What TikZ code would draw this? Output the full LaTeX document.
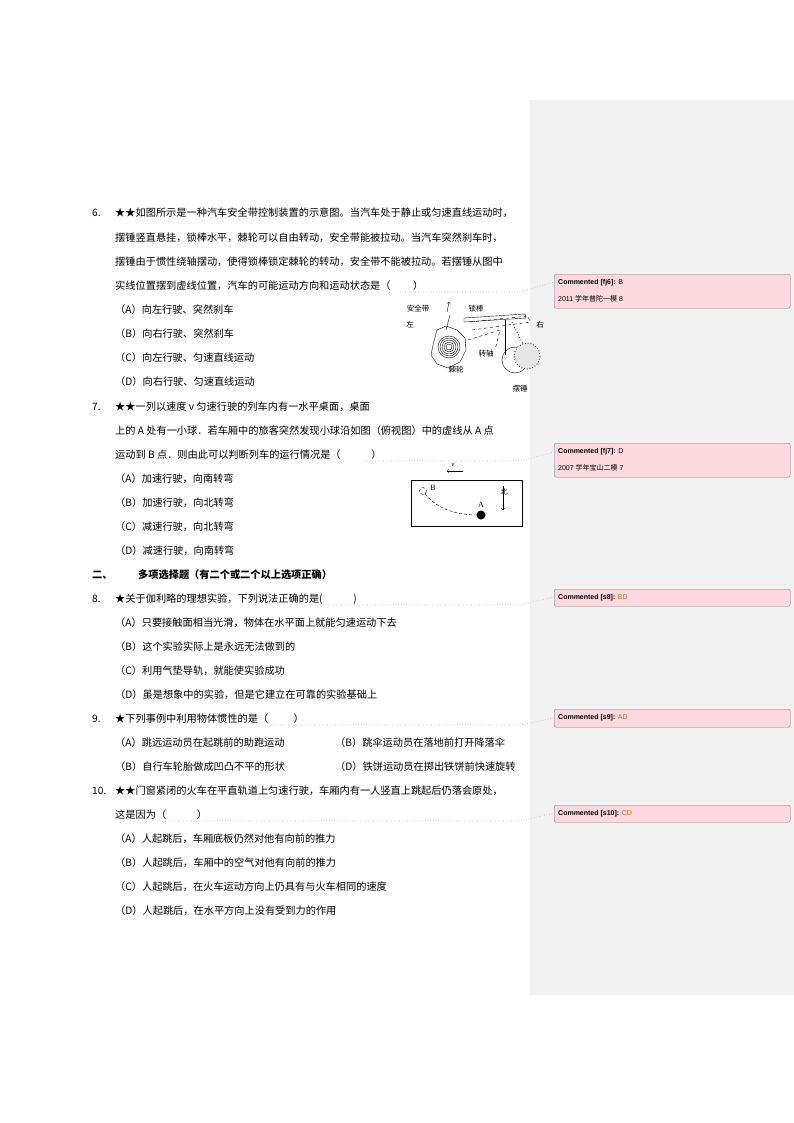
\documentclass[tikz,border=0pt]{standalone}
\usepackage{fontspec}
\setmainfont{Liberation Serif}
\newfontfamily\cjk{Noto Sans CJK SC}
\newfontfamily\sans{Liberation Sans}
\definecolor{panel}{HTML}{F2F2F2}
\definecolor{cpink}{HTML}{FCD9DF}
\definecolor{cedge}{HTML}{9A6A78}
\definecolor{ans}{HTML}{D2691E}
\begin{document}
\begin{tikzpicture}[x=1pt,y=-1pt,
  txt/.style={anchor=west,inner sep=0pt,font=\cjk\fontsize{10.2}{12}\selectfont},
  ctext/.style={anchor=west,inner sep=0pt,font=\sans\fontsize{7}{9}\selectfont},
  cbox/.style={draw=cedge,fill=cpink,rounded corners=2pt},
  lead/.style={draw=gray!70,dotted,line width=0.6pt}]
\useasboundingbox (0,0) rectangle (794,1123);
\fill[white] (0,0) rectangle (794,1123);
\fill[panel] (530,100) rectangle (794,995);
% Q6
\node[txt] (n6) at (92,213) {6.};
\node[txt] (q6a) at (115,213) {★★如图所示是一种汽车安全带控制装置的示意图。当汽车处于静止或匀速直线运动时，};
\node[txt] at (115,238) {摆锤竖直悬挂，锁棒水平，棘轮可以自由转动，安全带能被拉动。当汽车突然刹车时，};
\node[txt] at (115,262) {摆锤由于惯性绕轴摆动，使得锁棒锁定棘轮的转动，安全带不能被拉动。若摆锤从图中};
\node[txt] (q6d) at (115,286) {实线位置摆到虚线位置，汽车的可能运动方向和运动状态是（\hspace{2.2em}）};
\node[txt] at (115,310) {（A）向左行驶、突然刹车};
\node[txt] at (115,334) {（B）向右行驶、突然刹车};
\node[txt] at (115,358) {（C）向左行驶、匀速直线运动};
\node[txt] at (115,382) {（D）向右行驶、匀速直线运动};
% figure 6
\begin{scope}[font=\cjk\fontsize{7.5}{9}\selectfont]
\node at (418,309) {安全带};
\node at (476,309) {锁棒};
\node at (410,325) {左};
\node at (540,325) {右};
\node at (486,354) {转轴};
\node at (456,370) {棘轮};
\node at (520,389) {摆锤};
\draw (433,345) -- (437,330) -- (446,326) -- (457,330) -- (465,338) -- (466,350) -- (460,362) -- (448,368) -- (437,364) -- (431,355) -- cycle;
\foreach \r in {3,5,7,9,11} \draw[line width=0.4pt] (449,347) circle (\r);
\draw (446,330) -- (450,315); \draw[->] (447,312)--(449,302);
\draw (464,318) -- (525,314) -- (526,318) -- (464,322) -- cycle;
\draw[dashed] (470,322) -- (528,316) -- (530,322) -- (472,330);
\draw (505,320) -- (505,355);
\draw (515,360) circle (13);
\draw[dotted,thick] (512,322) -- (525,348);
\draw[dotted,thick,fill=gray!20] (527,356) circle (13);
\draw[dashed] (468,340) -- (500,330) -- (495,350);
\end{scope}
% Q7
\node[txt] at (92,407) {7.};
\node[txt] at (115,407) {★★一列以速度 v 匀速行驶的列车内有一水平桌面，桌面};
\node[txt] at (115,431) {上的 A 处有一小球．若车厢中的旅客突然发现小球沿如图（俯视图）中的虚线从 A 点};
\node[txt] (q7c) at (115,455) {运动到 B 点．则由此可以判断列车的运行情况是（\hspace{3em}）};
\node[txt] at (115,479) {（A）加速行驶，向南转弯};
\node[txt] at (115,503) {（B）加速行驶，向北转弯};
\node[txt] at (115,527) {（C）减速行驶，向北转弯};
\node[txt] at (115,551) {（D）减速行驶，向南转弯};
\draw (411,480) rectangle (522,526);
\node[font=\itshape\fontsize{7}{8}\selectfont] at (453,465) {v};
\draw[->] (463,471) -- (447,471);
\node[font=\fontsize{8}{9}\selectfont] at (433,488) {B};
\node[font=\fontsize{8}{9}\selectfont] at (481,505) {A};
\draw[densely dashed] (423,491) circle (3.5);
\draw[densely dashed] (425,494) .. controls (440,512) and (462,515) .. (478,515);
\fill (481,515) circle (4.5);
\node[font=\cjk\fontsize{7}{8}\selectfont] at (504,492) {北};
\draw[->] (503,486) -- (503,510);
% heading
\node[txt,font=\cjk\bfseries\fontsize{10.2}{12}\selectfont] at (92,575) {二、};
\node[txt,font=\cjk\bfseries\fontsize{10.2}{12}\selectfont] at (138,575) {多项选择题（有二个或二个以上选项正确）};
% Q8
\node[txt] at (92,599) {8.};
\node[txt] (q8) at (115,599) {★关于伽利略的理想实验，下列说法正确的是(\hspace{3em})};
\node[txt] at (115,623) {（A）只要接触面相当光滑，物体在水平面上就能匀速运动下去};
\node[txt] at (115,647) {（B）这个实验实际上是永远无法做到的};
\node[txt] at (115,671) {（C）利用气垫导轨，就能使实验成功};
\node[txt] at (115,695) {（D）虽是想象中的实验，但是它建立在可靠的实验基础上};
% Q9
\node[txt] at (92,719) {9.};
\node[txt] (q9) at (115,719) {★下列事例中利用物体惯性的是（\hspace{2.5em}）};
\node[txt] at (115,743) {（A）跳远运动员在起跳前的助跑运动};
\node[txt] at (335,743) {（B）跳伞运动员在落地前打开降落伞};
\node[txt] at (115,767) {（B）自行车轮胎做成凹凸不平的形状};
\node[txt] at (335,767) {（D）铁饼运动员在掷出铁饼前快速旋转};
% Q10
\node[txt] at (92,791) {10.};
\node[txt] at (115,791) {★★门窗紧闭的火车在平直轨道上匀速行驶，车厢内有一人竖直上跳起后仍落会原处，};
\node[txt] (q10) at (115,815) {这是因为（\hspace{3em}）};
\node[txt] at (115,839) {（A）人起跳后，车厢底板仍然对他有向前的推力};
\node[txt] at (115,863) {（B）人起跳后，车厢中的空气对他有向前的推力};
\node[txt] at (115,887) {（C）人起跳后，在火车运动方向上仍具有与火车相同的速度};
\node[txt] at (115,911) {（D）人起跳后，在水平方向上没有受到力的作用};
% comments
\node[cbox,minimum width=236pt,minimum height=34pt,anchor=north west,inner sep=0pt] (c6) at (554,274) {};
\node[ctext] at (558,283) {\textbf{Commented [fj6]:} B};
\node[ctext] at (558,299) {2011 {\cjk 学年普陀一模} 8};
\node[cbox,minimum width=236pt,minimum height=34pt,anchor=north west,inner sep=0pt] (c7) at (554,443) {};
\node[ctext] at (558,452) {\textbf{Commented [fj7]:} D};
\node[ctext] at (558,468) {2007 {\cjk 学年宝山二模} 7};
\node[cbox,minimum width=236pt,minimum height=17pt,anchor=north west,inner sep=0pt] (c8) at (554,589) {};
\node[ctext] at (558,597.5) {\textbf{Commented [s8]:} \textcolor{ans}{BD}};
\node[cbox,minimum width=236pt,minimum height=18pt,anchor=north west,inner sep=0pt] (c9) at (554,709) {};
\node[ctext] at (558,718) {\textbf{Commented [s9]:} \textcolor{ans}{AD}};
\node[cbox,minimum width=236pt,minimum height=17pt,anchor=north west,inner sep=0pt] (c10) at (554,805) {};
\node[ctext] at (558,813.5) {\textbf{Commented [s10]:} \textcolor{ans}{CD}};
% leaders
\draw[lead] (400,292) -- (520,292) -- (554,282);
\draw[lead] (365,461) -- (520,461) -- (554,452);
\draw[lead] (310,605) -- (520,605) -- (554,597);
\draw[lead] (270,725) -- (520,725) -- (554,718);
\draw[lead] (160,821) -- (520,821) -- (554,813);
\end{tikzpicture}
\end{document}
